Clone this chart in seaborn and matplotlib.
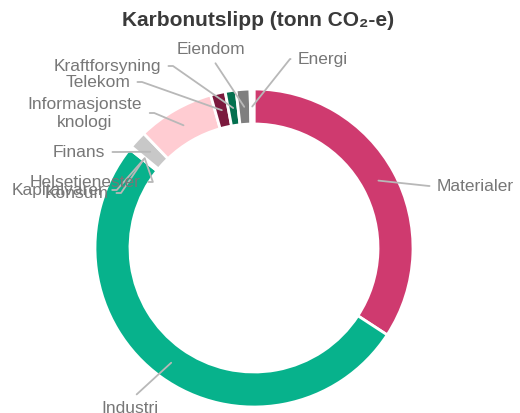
import numpy as np
import seaborn as sns
import matplotlib.pyplot as plt

# data: utslipp per sektor (andel i prosent, lest av figuren)
sektorer = [
    "Materialer", "Industri", "Kapitalvarer", "Konsum", "Helsetjenester",
    "Finans", "Informasjonsteknologi", "Telekom", "Kraftforsyning",
    "Eiendom", "Energi",
]
utslipp = [34.2, 51.5, 0.1, 0.1, 0.1, 1.8, 7.8, 1.5, 1.1, 1.4, 0.4]
farger = [
    "#cf3a6f", "#07b28c", "#9a9a9a", "#bdbdbd", "#d8d8d8",
    "#c8c8c8", "#ffccd2", "#7b1a3e", "#03704f", "#7f7f7f", "#ffffff",
]
visningsnavn = {"Informasjonsteknologi": "Informasjonste\nknologi"}

W, H = 520, 414
CX, CY, R = 254, 249, 159  # midtpunkt og radius i piksler

# plassering av etiketter (piksler fra øvre venstre hjørne), justering
etiketter = {
    "Materialer": (437, 187, "left"),
    "Industri": (130, 409, "center"),
    "Kapitalvarer": (12, 191, "left"),
    "Konsum": (45, 194, "left"),
    "Helsetjenester": (30, 183, "left"),
    "Finans": (105, 153, "right"),
    "Informasjonsteknologi": (85, 114, "center"),
    "Telekom": (130, 83, "right"),
    "Kraftforsyning": (161, 67, "right"),
    "Eiendom": (211, 50, "center"),
    "Energi": (298, 60, "left"),
}


def set_config():
    sns.set_theme(style="white")
    plt.rcParams["font.family"] = ["Liberation Sans", "DejaVu Sans"]


def draw_donut():
    fig = plt.figure(figsize=(W / 100, H / 100), dpi=100)
    ax = fig.add_axes([0, 0, 1, 1])

    wedges, _ = ax.pie(
        utslipp, colors=farger, startangle=90, counterclock=False,
        wedgeprops=dict(width=0.22, edgecolor="white", linewidth=2),
    )
    ax.set_xlim(-CX / R, (W - CX) / R)
    ax.set_ylim(-(H - CY) / R, CY / R)
    ax.set_aspect("equal")
    ax.axis("off")

    for w, navn in zip(wedges, sektorer):
        px, py, ha = etiketter[navn]
        mid = np.deg2rad((w.theta1 + w.theta2) / 2)
        xy = (0.89 * np.cos(mid), 0.89 * np.sin(mid))

        if navn == "Industri":
            relpos, conn = (0.5, 1.0), "arc3"
        elif navn == "Eiendom":
            relpos, conn = (0.5, 0.0), "arc3"
        elif ha == "left" and px > CX:
            relpos, conn = (0.0, 0.5), "arc,angleA=180,armA=8,angleB=0,armB=0,rad=0"
        else:
            relpos, conn = (1.0, 0.5), "arc,angleA=0,armA=12,angleB=0,armB=0,rad=0"

        ax.annotate(
            visningsnavn.get(navn, navn), xy=xy, xycoords="data",
            xytext=(px, H - py), textcoords="figure pixels",
            ha=ha, va="center", fontsize=12.5, color="#777777",
            linespacing=1.25,
            arrowprops=dict(arrowstyle="-", color="#b8b8b8", lw=1.3,
                            shrinkA=3, shrinkB=0, relpos=relpos,
                            connectionstyle=conn),
        )

    fig.text(258 / W, 1 - 21 / H, "Karbonutslipp (tonn CO₂-e)",
             ha="center", va="center", fontsize=15, fontweight="bold",
             color="#3a3a3a")
    fig.savefig("out.png", dpi=100)


def main():
    set_config()
    draw_donut()


if __name__ == "__main__":
    main()
